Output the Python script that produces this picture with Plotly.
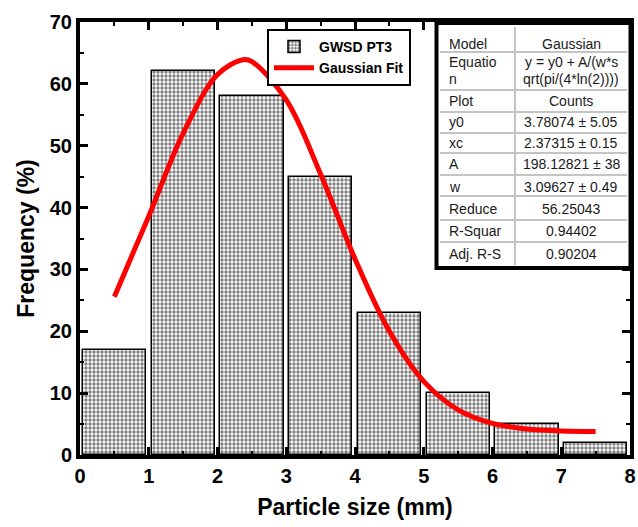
import plotly.graph_objects as go

# ---- data ----
bin_centers = [0.5, 1.5, 2.5, 3.5, 4.5, 5.5, 6.5, 7.5]
frequency = [17, 62, 58, 45, 23, 10, 5, 2]

fit_x = [0.5, 1.0, 1.5, 2.0, 2.37, 2.5, 3.0, 3.5, 4.0, 4.5, 5.0, 5.5, 6.0, 6.5, 7.0, 7.5]
fit_y = [25.6, 38.6, 52.0, 61.5, 63.9, 63.6, 57.4, 45.4, 31.7, 20.0, 11.9, 7.3, 5.1, 4.2, 3.9, 3.8]

table_left = ["Model", "Equatio<br>n", "Plot", "y0", "xc", "A", "w", "Reduce", "R-Squar", "Adj. R-S"]
table_right = ["Gaussian", "y = y0 + A/(w*s<br>qrt(pi/(4*ln(2))))", "Counts",
               "3.78074 ± 5.05", "2.37315 ± 0.15", "198.12821 ± 38",
               "3.09627 ± 0.49", "56.25043", "0.94402", "0.90204"]

x_ticks = [0, 1, 2, 3, 4, 5, 6, 7, 8]
y_ticks = [0, 10, 20, 30, 40, 50, 60, 70]

# ---- layout geometry (pixels) ----
W, H = 638, 527
L, R, T, B = 80, 8, 22, 72
PW = W - L - R
PH = H - T - B


def px(xp):
    return (xp - L) / PW


def py(yp):
    return (H - B - yp) / PH


fig = go.Figure()
fig.add_trace(go.Bar(
    x=bin_centers, y=frequency, width=0.92, name="GWSD PT3",
    marker=dict(color="white", line=dict(color="black", width=1.5),
                pattern=dict(shape=".", fgcolor="black", bgcolor="white",
                             size=4, solidity=0.55, fillmode="overlay")),
))
fig.add_trace(go.Scatter(
    x=fit_x, y=fit_y, mode="lines", name="Gaussian Fit",
    line=dict(color="#ff0000", width=5, shape="spline"),
))

axis_font = dict(family="Arial, Liberation Sans", size=20, color="black", weight="bold")
title_font = dict(family="Arial, Liberation Sans", size=23, color="black", weight="bold")

fig.update_xaxes(
    range=[0, 8], tickvals=x_ticks, ticks="inside", ticklen=8, tickwidth=3,
    tickcolor="black", linewidth=4, linecolor="black", mirror="ticks",
    showgrid=False, zeroline=False, tickfont=axis_font, automargin=False,
    minor=dict(dtick=0.5, ticks="inside", ticklen=4, tickwidth=2, tickcolor="black", showgrid=False),
    title=dict(text="Particle size (mm)", font=title_font, standoff=14),
)
fig.update_yaxes(
    range=[0, 70], tickvals=y_ticks, ticks="inside", ticklen=8, tickwidth=3,
    tickcolor="black", linewidth=4, linecolor="black", mirror="ticks",
    showgrid=False, zeroline=False, tickfont=axis_font, automargin=False,
    minor=dict(dtick=5, ticks="inside", ticklen=4, tickwidth=2, tickcolor="black", showgrid=False),
    title=dict(text="Frequency (%)", font=title_font, standoff=10),
)

# ---- fit parameter table ----
shapes = []
annotations = []
tx0, tx1, ty0, ty1 = 436.5, 630.5, 23, 268
shapes.append(dict(type="rect", xref="paper", yref="paper",
                   x0=px(tx0), x1=px(tx1), y0=py(ty0), y1=py(ty1),
                   fillcolor="white", line=dict(color="black", width=4), layer="above"))
row_lines = [52, 90, 112, 133, 153, 175, 196, 220, 242]
for yl in row_lines:
    shapes.append(dict(type="line", xref="paper", yref="paper",
                       x0=px(440), x1=px(627), y0=py(yl), y1=py(yl),
                       line=dict(color="#c4c4c4", width=2), layer="above"))
shapes.append(dict(type="line", xref="paper", yref="paper",
                   x0=px(515), x1=px(515), y0=py(27), y1=py(265),
                   line=dict(color="#c4c4c4", width=2), layer="above"))

row_centers = [44, 62, 101, 122, 143, 164, 187, 209, 231, 254]
line_step = 17
tfont = dict(family="Arial, Liberation Sans", size=14, color="#1a1a1a")
for yc, lt, rt in zip(row_centers, table_left, table_right):
    for k, part in enumerate(lt.split("<br>")):
        annotations.append(dict(xref="paper", yref="paper", x=px(447), y=py(yc + k * line_step),
                                text=part, showarrow=False, xanchor="left", yanchor="middle",
                                align="left", font=tfont))
    for k, part in enumerate(rt.split("<br>")):
        annotations.append(dict(xref="paper", yref="paper", x=px(571), y=py(yc + k * line_step),
                                text=part, showarrow=False, xanchor="center", yanchor="middle",
                                align="center", font=tfont))

fig.update_layout(
    width=W, height=H,
    margin=dict(l=L, r=R, t=T, b=B, autoexpand=False),
    paper_bgcolor="white", plot_bgcolor="white",
    bargap=0, showlegend=True,
    legend=dict(x=px(267), y=py(29), xanchor="left", yanchor="top",
                bgcolor="white", bordercolor="black", borderwidth=2,
                font=dict(family="Arial, Liberation Sans", size=14, color="black", weight="bold"),
                itemwidth=40, tracegroupgap=0),
    shapes=shapes, annotations=annotations,
)

fig.write_html("out.html")
